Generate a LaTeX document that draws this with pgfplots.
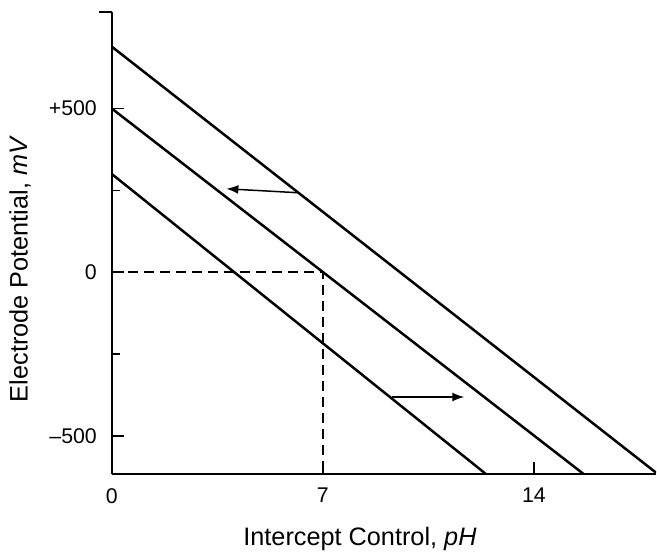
\documentclass[border=0pt]{standalone}
\usepackage{fontspec}
\setmainfont{Liberation Sans}
\usepackage{pgfplots}
\pgfplotsset{compat=1.18}
\usetikzlibrary{arrows.meta}

\begin{document}
\begin{tikzpicture}
\begin{axis}[
  name=ax,
  at={(0,0)}, anchor=south west,
  scale only axis,
  width=272.5bp, height=231.5bp,
  xmin=0, xmax=18.05,
  ymin=-617, ymax=795,
  axis x line=bottom, axis y line=left,
  axis line style={-, line width=1bp},
  xtick={0,7,14}, xticklabels={0,7,14},
  ytick={-500,0,500}, yticklabels={–500,0,+500},
  minor ytick={-250,250},
  extra y ticks={795}, extra y tick labels={},
  extra y tick style={tick align=outside, major tick length=6.5bp},
  tick align=inside,
  major tick length=6bp, minor tick length=4bp,
  tick style={black, line width=0.8bp},
  xticklabel style={yshift=-3.5bp, font=\fontsize{10.7}{12}\selectfont},
  yticklabel style={xshift=-4bp, font=\fontsize{10.7}{12}\selectfont},
  xlabel={Intercept Control, \textit{pH}},
  ylabel={Electrode Potential, \textit{mV}},
  every axis x label/.style={at={(axis description cs:0.456,-0.1404)}, anchor=center,
    font=\fontsize{12.7}{15}\selectfont},
  every axis y label/.style={at={(axis description cs:-0.1688,0.444)}, anchor=center, rotate=90,
    font=\fontsize{12.7}{15}\selectfont},
]
% the three electrode lines
\addplot[black, line width=1.25bp] coordinates {(0,689) (18.05,-612)};
\addplot[black, line width=1.25bp] coordinates {(0,500) (15.66,-617)};
\addplot[black, line width=1.25bp] coordinates {(0,300) (12.42,-617)};
% dashed guide to pH 7, 0 mV
\addplot[black, line width=0.8bp, dash pattern=on 5bp off 3bp] coordinates {(0,0) (7,0) (7,-617)};
% shift arrows
\addplot[black, line width=0.75bp, -{Latex[length=6bp,width=4.5bp]}] coordinates {(6.16,243) (3.80,255)};
\addplot[black, line width=0.75bp, -{Latex[length=6bp,width=4.5bp]}] coordinates {(9.30,-381) (11.69,-381)};
\end{axis}
\path (ax.south west) ++(-56bp,-39.5bp) coordinate (bl);
\path (ax.north east) ++(0,6bp) coordinate (tr);
\path (bl) rectangle (tr);
\end{tikzpicture}
\end{document}
